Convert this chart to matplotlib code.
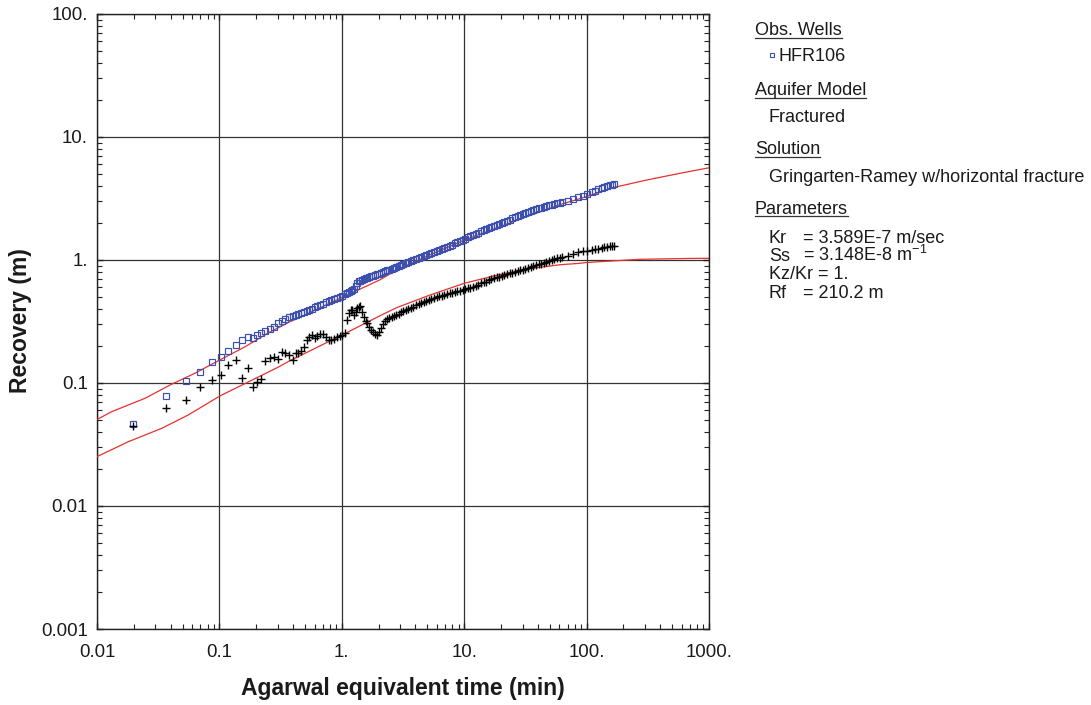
import matplotlib
matplotlib.use("Agg")
import matplotlib.pyplot as plt
from matplotlib.ticker import FixedLocator, FixedFormatter, LogLocator, NullFormatter
from matplotlib.lines import Line2D

plt.rcParams['font.family'] = ['Liberation Sans', 'DejaVu Sans']
plt.rcParams['mathtext.default'] = 'regular'

# ---------------- data ----------------
time_min = [0.0198, 0.0366, 0.053, 0.070, 0.087, 0.1025, 0.118, 0.1374, 0.153, 0.1713,
            0.187, 0.2017, 0.2175, 0.237, 0.2576, 0.2778, 0.301, 0.323, 0.345, 0.3725,
            0.4016, 0.42, 0.44, 0.465, 0.49, 0.515, 0.54, 0.57, 0.60, 0.63,
            0.665, 0.70, 0.74, 0.78, 0.82, 0.865, 0.91, 0.96, 1.01, 1.06,
            1.10, 1.14, 1.18, 1.22, 1.26, 1.30, 1.34, 1.38, 1.42, 1.47,
            1.52, 1.57, 1.62, 1.68, 1.74, 1.80, 1.87, 1.94, 2.01, 2.09,
            2.17, 2.26, 2.35, 2.45, 2.56, 2.67, 2.79, 2.92, 3.05, 3.19,
            3.34, 3.50, 3.67, 3.85, 4.04, 4.24, 4.45, 4.67, 4.90, 5.15,
            5.40, 5.67, 5.95, 6.25, 6.57, 6.90, 7.25, 7.62, 8.0, 8.4,
            8.8, 9.25, 9.7, 10.2, 10.7, 11.2, 11.8, 12.4, 13.0, 13.7,
            14.4, 15.1, 15.9, 16.7, 17.5, 18.4, 19.3, 20.3, 21.3, 22.4,
            23.5, 24.7, 26.0, 27.3, 28.7, 30.1, 31.6, 33.2, 34.9, 36.7,
            38.5, 40.5, 42.5, 44.7, 47.0, 49.4, 51.9, 54.5, 57.3, 60.2,
            63.5, 71, 78, 85.6, 93, 101, 110, 117, 125, 133,
            140, 147, 154, 161, 168]

recovery_m = [0.0464, 0.078, 0.1038, 0.1236, 0.148, 0.164, 0.182, 0.2025, 0.2225, 0.238,
              0.2335, 0.247, 0.2565, 0.265, 0.276, 0.287, 0.306, 0.319, 0.331, 0.342,
              0.352, 0.358, 0.364, 0.372, 0.380, 0.387, 0.394, 0.403, 0.412, 0.421,
              0.431, 0.441, 0.452, 0.462, 0.471, 0.481, 0.491, 0.502, 0.514, 0.527,
              0.536, 0.546, 0.557, 0.570, 0.583, 0.620, 0.655, 0.671, 0.679, 0.689,
              0.698, 0.708, 0.717, 0.727, 0.737, 0.746, 0.756, 0.765, 0.775, 0.786,
              0.798, 0.810, 0.823, 0.836, 0.851, 0.865, 0.880, 0.896, 0.912, 0.928,
              0.945, 0.963, 0.982, 1.001, 1.021, 1.041, 1.061, 1.082, 1.103, 1.125,
              1.146, 1.166, 1.186, 1.208, 1.230, 1.251, 1.275, 1.304, 1.334, 1.364,
              1.394, 1.426, 1.459, 1.494, 1.528, 1.561, 1.600, 1.638, 1.671, 1.706,
              1.739, 1.772, 1.809, 1.844, 1.879, 1.920, 1.960, 2.002, 2.044, 2.088,
              2.132, 2.176, 2.222, 2.267, 2.313, 2.358, 2.405, 2.451, 2.493, 2.537,
              2.579, 2.625, 2.669, 2.714, 2.750, 2.786, 2.822, 2.858, 2.896, 2.933,
              2.960, 3.02, 3.12, 3.24, 3.34, 3.44, 3.55, 3.64, 3.76, 3.83,
              3.90, 4.00, 4.05, 4.10, 4.15]

derivative_m = [0.0445, 0.063, 0.0727, 0.0933, 0.1064, 0.1168, 0.140, 0.153, 0.1105, 0.1324,
                0.0933, 0.102, 0.1084, 0.151, 0.159, 0.164, 0.156, 0.177, 0.175, 0.168,
                0.154, 0.174, 0.176, 0.183, 0.197, 0.222, 0.238, 0.245, 0.232, 0.243,
                0.250, 0.252, 0.236, 0.225, 0.224, 0.229, 0.235, 0.240, 0.246, 0.253,
                0.325, 0.370, 0.393, 0.390, 0.357, 0.380, 0.405, 0.415, 0.420, 0.375,
                0.345, 0.318, 0.305, 0.285, 0.272, 0.262, 0.252, 0.246, 0.262, 0.280,
                0.303, 0.318, 0.332, 0.340, 0.346, 0.351, 0.357, 0.366, 0.377, 0.384,
                0.390, 0.400, 0.410, 0.418, 0.427, 0.437, 0.447, 0.458, 0.466, 0.475,
                0.483, 0.490, 0.497, 0.506, 0.514, 0.522, 0.528, 0.536, 0.541, 0.548,
                0.555, 0.563, 0.572, 0.580, 0.588, 0.597, 0.606, 0.617, 0.632, 0.645,
                0.657, 0.668, 0.682, 0.697, 0.712, 0.722, 0.732, 0.743, 0.753, 0.765,
                0.777, 0.788, 0.800, 0.812, 0.824, 0.836, 0.849, 0.862, 0.876, 0.890,
                0.905, 0.920, 0.935, 0.952, 0.968, 0.984, 1.000, 1.015, 1.030, 1.044,
                1.058, 1.078, 1.12, 1.155, 1.178, 1.19, 1.206, 1.22, 1.235, 1.25,
                1.265, 1.278, 1.288, 1.30, 1.30]

fit_time = [0.01, 0.0132, 0.0247, 0.0395, 0.063, 0.101, 0.162, 0.25, 0.377, 0.415,
            1.0, 2.05, 2.81, 5.25, 10, 17.3, 32.4, 60.7, 88, 100, 165, 310, 580, 1000]
fit_recovery = [0.0505, 0.0585, 0.0751, 0.0963, 0.120, 0.154, 0.197, 0.255, 0.315, 0.328,
                0.495, 0.69, 0.83, 1.10, 1.45, 1.78, 2.25, 2.82, 3.15, 3.28, 3.88, 4.47, 5.07, 5.62]

fit2_time = [0.01, 0.018, 0.0338, 0.0557, 0.101, 0.19, 0.30, 0.377, 0.415, 1.0, 2.05, 2.81,
             5.25, 10, 17.3, 32.4, 60.7, 88, 100, 273, 700, 1000]
fit_derivative = [0.0252, 0.0333, 0.0428, 0.055, 0.0785, 0.107, 0.134, 0.152, 0.159, 0.245,
                  0.352, 0.41, 0.519, 0.646, 0.741, 0.845, 0.915, 0.94, 0.955, 1.013, 1.03, 1.032]

x_ticks = [0.01, 0.1, 1, 10, 100, 1000]
x_labels = ['0.01', '0.1', '1.', '10.', '100.', '1000.']
y_ticks = [0.001, 0.01, 0.1, 1, 10, 100]
y_labels = ['0.001', '0.01', '0.1', '1.', '10.', '100.']

# ---------------- figure ----------------
W, H = 1091, 705
fig = plt.figure(figsize=(W / 100, H / 100), dpi=100)
ax = fig.add_axes([97 / W, 1 - 629 / H, 612 / W, 615 / H])

blue = '#3b4fae'
red = '#e8302c'
txt = '#1a1a1a'

ax.plot(fit_time, fit_recovery, color=red, lw=0.9, zorder=3)
ax.plot(fit2_time, fit_derivative, color=red, lw=0.9, zorder=3)
ax.plot(time_min, recovery_m, ls='none', marker='s', ms=4.0, mfc='none',
        mec=blue, mew=0.85, zorder=4)
ax.plot(time_min, derivative_m, ls='none', marker='+', ms=5.5, color='black',
        mew=1.0, zorder=4)

ax.set_xscale('log')
ax.set_yscale('log')
ax.set_xlim(0.01, 1000)
ax.set_ylim(0.001, 100)

ax.xaxis.set_major_locator(FixedLocator(x_ticks))
ax.xaxis.set_major_formatter(FixedFormatter(x_labels))
ax.yaxis.set_major_locator(FixedLocator(y_ticks))
ax.yaxis.set_major_formatter(FixedFormatter(y_labels))
ax.xaxis.set_minor_locator(LogLocator(base=10, subs=range(2, 10), numticks=20))
ax.yaxis.set_minor_locator(LogLocator(base=10, subs=range(2, 10), numticks=20))
ax.xaxis.set_minor_formatter(NullFormatter())
ax.yaxis.set_minor_formatter(NullFormatter())

ax.tick_params(which='both', direction='in', top=True, right=True, colors='#222222')
ax.tick_params(which='major', length=4, width=1.0, labelsize=13.4, labelcolor=txt)
ax.tick_params(which='minor', length=3.5, width=0.8)
ax.tick_params(axis='x', which='major', pad=10.5)
ax.tick_params(axis='y', which='major', pad=6.5)

ax.grid(which='major', color='#333333', lw=0.9, zorder=1)
for s in ax.spines.values():
    s.set_color('#222222')
    s.set_linewidth(1.0)

fig.text(21 / W, 1 - 321 / H, 'Recovery (m)', rotation=90, ha='center', va='center',
         fontsize=16.5, fontweight='bold', color=txt)
fig.text(403 / W, 1 - 688 / H, 'Agarwal equivalent time (min)', ha='center', va='center',
         fontsize=16.5, fontweight='bold', color=txt)

# ---------------- side legend ----------------
fs = 13.0
def fy(py):
    return 1 - py / H

headers = [('Obs. Wells', 35), ('Aquifer Model', 95), ('Solution', 154), ('Parameters', 214)]
fig.canvas.draw()
renderer = fig.canvas.get_renderer()
for label, base in headers:
    t = fig.text(755 / W, fy(base), label, ha='left', va='baseline', fontsize=fs, color=txt)
    bb = t.get_window_extent(renderer)
    fig.add_artist(Line2D([bb.x0 / W, bb.x1 / W], [fy(base + 2.5), fy(base + 2.5)],
                          transform=fig.transFigure, color='#333333', lw=0.9))

fig.text(779 / W, fy(61), 'HFR106', ha='left', va='baseline', fontsize=fs, color=txt)
fig.add_artist(Line2D([772 / W], [fy(55)], transform=fig.transFigure, ls='none',
                      marker='s', ms=3.3, mfc='none', mec=blue, mew=0.8))
fig.text(769 / W, fy(122), 'Fractured', ha='left', va='baseline', fontsize=fs, color=txt)
fig.text(769 / W, fy(182), 'Gringarten-Ramey w/horizontal fracture', ha='left',
         va='baseline', fontsize=fs, color=txt)

params = [('Kr', '= 3.589E-7 m/sec', 243), ('Ss', '= 3.148E-8 m$^{-1}$', 261),
          ('Kz/Kr = 1.', '', 279), ('Rf', '= 210.2 m', 298)]
for name, val, base in params:
    fig.text(769 / W, fy(base), name, ha='left', va='baseline', fontsize=fs, color=txt)
    if val:
        fig.text(803 / W, fy(base), val, ha='left', va='baseline', fontsize=fs, color=txt)

fig.savefig('out.png', dpi=100)
